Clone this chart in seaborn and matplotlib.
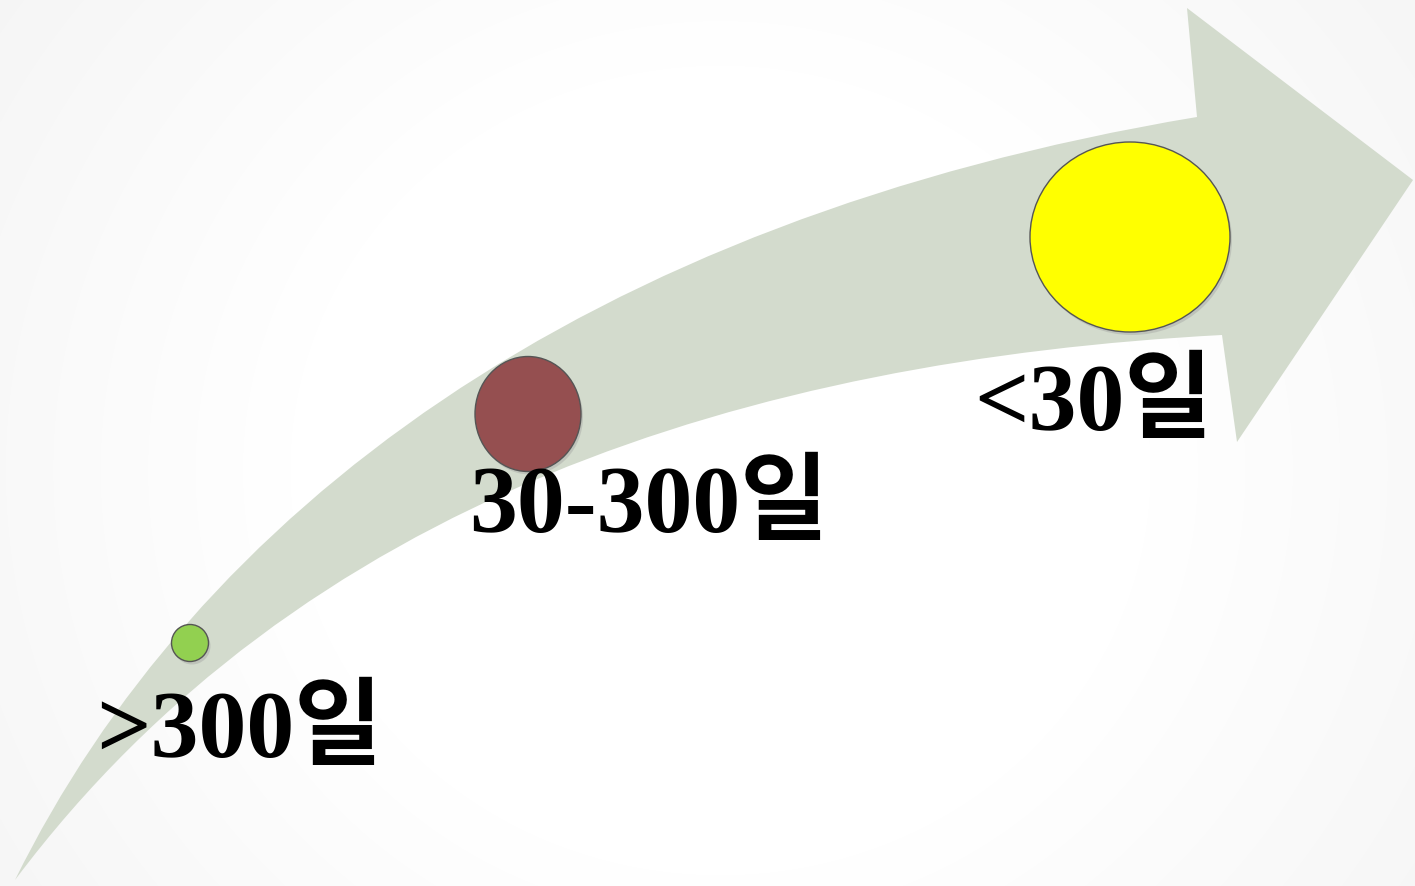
import numpy as np
import matplotlib.pyplot as plt
import seaborn as sns
from matplotlib.path import Path
from matplotlib.patches import PathPatch, Ellipse

# stages along the arrow
labels = [">300일", "30-300일", "<30일"]
circle_x = [190, 528, 1130]
circle_y = [643, 414, 237]
circle_w = [37, 106, 200]
circle_h = [37, 115, 190]
circle_colors = ["#92d050", "#954f50", "#ffff00"]
label_x = [96, 469, 974]
label_y = [757, 532, 430]


def main():
    sns.set_theme(style="white")
    plt.rcParams['font.family'] = ['Liberation Serif', 'Noto Sans CJK KR']

    fig = plt.figure(figsize=(14.15, 8.86), dpi=100)
    ax = fig.add_axes([0, 0, 1, 1])
    ax.set_xlim(0, 1415)
    ax.set_ylim(886, 0)
    ax.axis("off")

    # soft vignette background
    yy, xx = np.mgrid[0:886, 0:1415]
    d = np.sqrt(((xx - 720) / 850.0) ** 2 + ((yy - 470) / 800.0) ** 2)
    bg = 1.0 - 0.07 * np.clip(d - 0.45, 0, 1)
    ax.imshow(bg, cmap="gray", vmin=0, vmax=1, extent=(0, 1415, 886, 0),
              zorder=0, aspect="auto")

    # curved arrow
    verts = [
        (15, 880),
        (195, 515), (580, 220), (1197, 117),
        (1187, 8),
        (1413, 180),
        (1237, 442),
        (1222, 335),
        (750, 360), (300, 500), (15, 880),
        (15, 880),
    ]
    codes = [Path.MOVETO,
             Path.CURVE4, Path.CURVE4, Path.CURVE4,
             Path.LINETO, Path.LINETO, Path.LINETO, Path.LINETO,
             Path.CURVE4, Path.CURVE4, Path.CURVE4,
             Path.CLOSEPOLY]
    ax.add_patch(PathPatch(Path(verts, codes), facecolor="#d3dbcd",
                           edgecolor="none", zorder=1))

    for x, y, w, h, c in zip(circle_x, circle_y, circle_w, circle_h, circle_colors):
        ax.add_patch(Ellipse((x + 2, y + 3), w, h, facecolor="#999999",
                             alpha=0.35, edgecolor="none", zorder=2))
        ax.add_patch(Ellipse((x, y), w, h, facecolor=c,
                             edgecolor="#555555", linewidth=1, zorder=3))

    for x, y, t in zip(label_x, label_y, labels):
        ax.text(x, y, t, fontsize=69, fontweight="bold", color="black",
                ha="left", va="baseline", zorder=4)

    fig.savefig("out.png", dpi=100)


if __name__ == "__main__":
    main()
